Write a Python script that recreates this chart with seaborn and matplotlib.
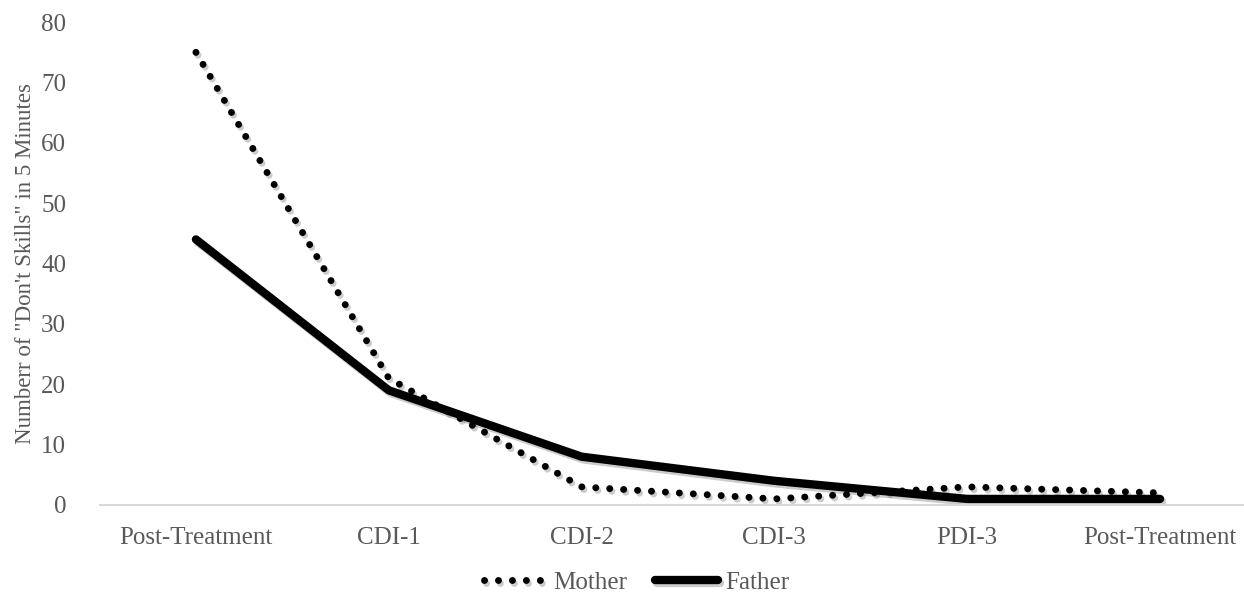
import seaborn as sns
import matplotlib.pyplot as plt
import matplotlib.patheffects as pe
import pandas as pd

stages = ['Post-Treatment', 'CDI-1', 'CDI-2', 'CDI-3', 'PDI-3', 'Post-Treatment']
mother = [75, 21, 3, 1, 3, 2]
father = [44, 19, 8, 4, 1, 1]

df = pd.DataFrame({
    'pos': list(range(len(stages))) * 2,
    'value': mother + father,
    'parent': ['Mother'] * len(mother) + ['Father'] * len(father),
})

sns.set_style('white')
plt.rcParams['font.family'] = ['Liberation Serif', 'DejaVu Serif']
grey = '#595959'
dots = (0, (0.01, 2.0))

fig = plt.figure(figsize=(12.44, 5.99), dpi=100)
ax = fig.add_axes([0.08, 0.157, 0.93, 0.806])

shadow = [pe.SimpleLineShadow(offset=(1.5, -2), alpha=0.2, shadow_color='black'), pe.Normal()]
sns.lineplot(data=df[df.parent == 'Mother'], x='pos', y='value', ax=ax, color='black',
             linewidth=5, label='Mother')
sns.lineplot(data=df[df.parent == 'Father'], x='pos', y='value', ax=ax, color='black',
             linewidth=6, label='Father')
mline, fline = ax.lines[0], ax.lines[1]
mline.set_linestyle(dots)
mline.set_dash_capstyle('round')
fline.set_solid_capstyle('round')
fline.set_solid_joinstyle('round')
for l in ax.lines:
    l.set_path_effects(shadow)

ax.set_xlim(-0.5, 5.5)
ax.set_ylim(0, 80)
ax.set_yticks(range(0, 81, 10))
ax.set_xticks(range(len(stages)))
ax.set_xticklabels(stages)
ax.tick_params(axis='both', colors=grey, labelsize=18, length=0)
ax.tick_params(axis='x', pad=16)
ax.tick_params(axis='y', pad=24)
ax.set_xlabel('')
ax.set_ylabel('Numberr of "Don\'t Skills" in 5 Minutes', color=grey, fontsize=16.5, labelpad=4)
for s in ['top', 'right', 'left']:
    ax.spines[s].set_visible(False)
ax.spines['bottom'].set_color('#d9d9d9')
ax.spines['bottom'].set_linewidth(1.5)

leg = ax.legend(loc='center', bbox_to_anchor=(0.464, -0.161), ncol=2, frameon=False,
                fontsize=18, handlelength=2.5, columnspacing=1.1, handletextpad=0.3)
for t in leg.get_texts():
    t.set_color(grey)
leg.get_lines()[0].set_linestyle(dots)
leg.get_lines()[0].set_dash_capstyle('round')
leg.get_lines()[1].set_solid_capstyle('round')

fig.savefig('out.png', dpi=100)
